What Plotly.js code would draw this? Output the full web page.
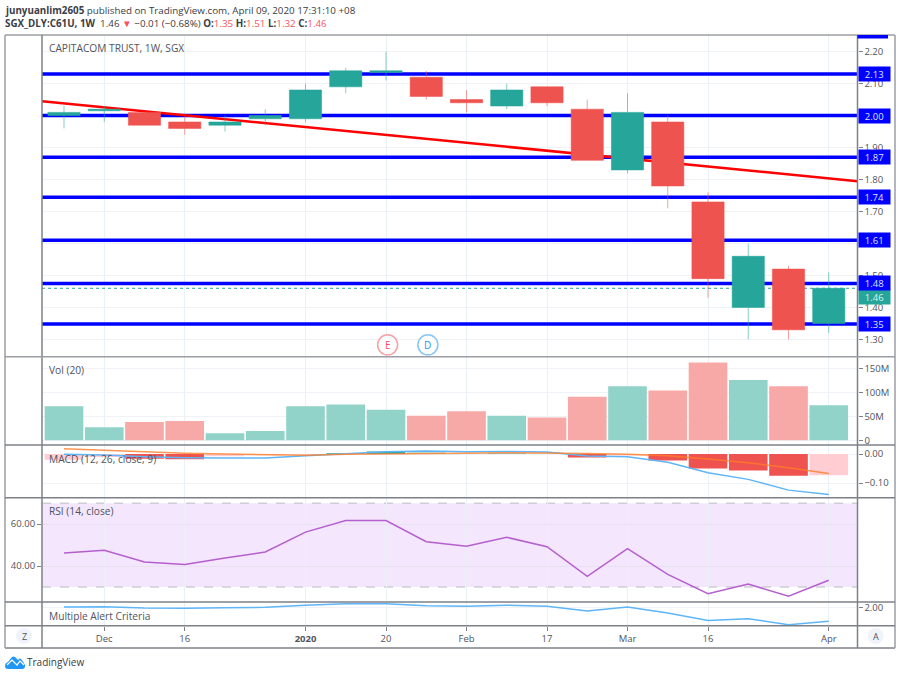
<!DOCTYPE html>
<html><head><meta charset="utf-8">
<script src="https://cdn.plot.ly/plotly-3.0.1.min.js"></script>
<style>html,body{margin:0;padding:0;background:#fff}#c{width:900px;height:677px}</style></head>
<body><div id="c"></div>
<script>
const idx=[0,1,2,3,4,5,6,7,8,9,10,11,12,13,14,15,16,17,18,19];
const open_=[2.00,2.015,2.01,1.98,1.97,1.99,1.99,2.09,2.135,2.12,2.05,2.03,2.09,2.02,1.83,1.98,1.73,1.40,1.52,1.35];
const high_=[2.03,2.03,2.01,2.00,2.00,2.02,2.10,2.15,2.20,2.14,2.08,2.10,2.09,2.05,2.07,2.00,1.76,1.60,1.53,1.51];
const low_=[1.96,1.98,1.97,1.94,1.95,1.97,1.98,2.07,2.11,2.05,2.01,2.02,2.03,1.86,1.82,1.71,1.43,1.30,1.30,1.32];
const close_=[2.01,2.02,1.97,1.96,1.98,2.00,2.08,2.14,2.14,2.06,2.04,2.08,2.04,1.86,2.01,1.78,1.49,1.56,1.33,1.46];
const volume=[71,27,38,40.4,14.6,19.5,71,74.6,63.5,51,60.7,51,47.4,90.7,113,104,162.6,126,113,73];
const macdHist=[-0.020,-0.010,-0.016,-0.018,-0.008,-0.004,-0.002,0.003,0.009,0.007,0.001,0.002,0.001,-0.012,-0.005,-0.022,-0.050,-0.057,-0.075,-0.073];
const macdLine=[-0.001,-0.003,-0.009,-0.013,-0.014,-0.014,-0.006,0.001,0.008,0.010,0.008,0.009,0.007,-0.007,-0.009,-0.028,-0.064,-0.087,-0.124,-0.139];
const signalLine=[0.018,0.013,0.007,0.003,0,-0.002,-0.004,-0.001,0.001,0.002,0.003,0.004,0.004,0.002,-0.001,-0.006,-0.017,-0.030,-0.047,-0.067];
const rsi=[46.2,47.5,41.9,40.8,43.8,46.7,56.2,61.7,61.7,51.6,49.4,53.7,49.2,35.1,48.3,36,26.8,31.4,25.6,33.2];
const alertCriteria=close_;
const levels=[2.13,2.00,1.87,1.745,1.61,1.475,1.348];
const levelLabels=['2.13','2.00','1.87','1.74','1.61','1.48','1.35'];
const lastPrice=1.46;
const trendX=[-0.5466,19.714];
const trendY=[2.045,1.795];
const xTickVals=[1,3,6,8,10,12,14,16,19];
const xTickText=['Dec','16','<b>2020</b>','20','Feb','17','Mar','16','Apr'];

const W=900,H=677,L=42,R=857.5,T=35,B=625.5;
const px=x=>x/W, py=y=>1-y/H;
const GREEN='#26a69a',RED='#ef5350',PG='#92d3c9',PR='#f7a9a7';
const TXT='#50535e',GRID='#eff3f8',FRAME='#9b9ea6',FRAME2='#7d8087';
const FONT='"Open Sans",sans-serif';
const xr=[-0.5466,19.714];
const up=idx.map(i=>close_[i]>=open_[i]);
const histCol=macdHist.map((v,i)=>{
  const prev=i?macdHist[i-1]:v;
  return v>=0?(v>=prev?GREEN:'#b2dfdb'):(v<prev?RED:'#ffcdd2');});

const traces=[];
levels.forEach(l=>traces.push({x:xr,y:[l,l],type:'scatter',mode:'lines',xaxis:'x',yaxis:'y',line:{color:'#0000ff',width:3.5},hoverinfo:'skip'}));
traces.push({x:trendX,y:trendY,type:'scatter',mode:'lines',xaxis:'x',yaxis:'y',line:{color:'#ff0000',width:2.5},hoverinfo:'skip'});
traces.push({x:xr,y:[lastPrice,lastPrice],type:'scatter',mode:'lines',xaxis:'x',yaxis:'y',line:{color:GREEN,width:1,dash:'dot'},hoverinfo:'skip'});
traces.push({x:idx,open:open_,high:high_,low:low_,close:close_,type:'candlestick',xaxis:'x',yaxis:'y6',whiskerwidth:0,
  increasing:{fillcolor:GREEN,line:{color:'rgba(38,166,154,0.55)',width:1}},
  decreasing:{fillcolor:RED,line:{color:'rgba(239,83,80,0.55)',width:1}}});
traces.push({x:idx,y:volume,type:'bar',xaxis:'x',yaxis:'y2',width:0.96,marker:{color:up.map(u=>u?PG:PR),line:{width:0}}});
traces.push({x:idx,y:macdHist,type:'bar',xaxis:'x',yaxis:'y3',width:0.96,marker:{color:histCol,line:{width:0}}});
traces.push({x:idx,y:macdLine,type:'scatter',mode:'lines',xaxis:'x',yaxis:'y3',line:{color:'#5eb5f7',width:1.5}});
traces.push({x:idx,y:signalLine,type:'scatter',mode:'lines',xaxis:'x',yaxis:'y3',line:{color:'rgba(255,125,40,0.8)',width:1.5}});
traces.push({x:idx,y:rsi,type:'scatter',mode:'lines',xaxis:'x',yaxis:'y4',line:{color:'#b55fcf',width:1.5}});
traces.push({x:idx,y:alertCriteria,type:'scatter',mode:'lines',xaxis:'x',yaxis:'y5',line:{color:'#5eb5f7',width:1.5}});

const yBase={showline:false,zeroline:false,gridcolor:GRID,gridwidth:1,ticks:'outside',ticklen:4,tickcolor:FRAME2,tickwidth:1,
  tickfont:{family:FONT,size:9.5,color:TXT},fixedrange:true,anchor:'x'};
const priceTicks=[1.3,1.4,1.5,1.6,1.7,1.8,1.9,2.0,2.1,2.2];
const priceRange=[1.246,2.252];

const lineShape=(x0,y0,x1,y1,c,w)=>({type:'line',xref:'paper',yref:'paper',x0:px(x0),y0:py(y0),x1:px(x1),y1:py(y1),line:{color:c,width:w},layer:'above'});
const shapes=[
  {type:'rect',xref:'paper',yref:'y4',x0:px(L),x1:px(R),y0:30,y1:70,fillcolor:'#f4e6fd',line:{width:0},layer:'below'},
  {type:'line',xref:'paper',yref:'y4',x0:px(L),x1:px(R),y0:70,y1:70,line:{color:'#b9bcc4',width:1,dash:'dash'},layer:'below'},
  {type:'line',xref:'paper',yref:'y4',x0:px(L),x1:px(R),y0:30,y1:30,line:{color:'#b9bcc4',width:1,dash:'dash'},layer:'below'},
  {type:'circle',xref:'x',yref:'y',xsizemode:'pixel',ysizemode:'pixel',xanchor:8.04,yanchor:1.283,x0:-10,x1:10,y0:-10,y1:10,line:{color:'#f9a0a4',width:1.5},fillcolor:'#fff'},
  {type:'circle',xref:'x',yref:'y',xsizemode:'pixel',ysizemode:'pixel',xanchor:9.04,yanchor:1.283,x0:-10,x1:10,y0:-10,y1:10,line:{color:'#85c6fa',width:1.5},fillcolor:'#fff'},
  lineShape(5,35,895,35,FRAME,1.5),
  lineShape(5,648,895,648,FRAME2,1.5),
  lineShape(5,35,5,648,FRAME,1.5),
  lineShape(895,35,895,648,FRAME,1.5),
  lineShape(42,35,42,648,FRAME2,1.5),
  lineShape(857.5,35,857.5,648,FRAME2,1.5),
  lineShape(5,356.7,895,356.7,FRAME,1.5),
  lineShape(5,445,895,445,FRAME2,1.5),
  lineShape(5,497.7,895,497.7,FRAME2,1.5),
  lineShape(5,602,895,602,FRAME2,1.5),
  lineShape(5,625.7,895,625.7,FRAME2,1.5),
  {type:'rect',xref:'paper',yref:'paper',x0:px(857.5),x1:px(888),y0:py(38.5),y1:py(35),fillcolor:'#0000ff',line:{width:0},layer:'above'},
  {type:'circle',xref:'paper',yref:'paper',x0:px(16),x1:px(32),y0:py(644),y1:py(628),fillcolor:'#f0f3fa',line:{width:0},layer:'above'},
  {type:'circle',xref:'paper',yref:'paper',x0:px(867.7),x1:px(883.7),y0:py(644),y1:py(628),fillcolor:'#f0f3fa',line:{width:0},layer:'above'},
  {type:'path',xref:'paper',yref:'paper',fillcolor:'#2196f3',line:{width:0},layer:'above',
    path:`M${px(5)},${py(666)} Q${px(5)},${py(663)} ${px(8)},${py(662)} L${px(12)},${py(657)} Q${px(13)},${py(656)} ${px(15)},${py(657)} L${px(18)},${py(660)} Q${px(20)},${py(657)} ${px(22)},${py(660)} L${px(25)},${py(665)} Q${px(25.5)},${py(669)} ${px(22)},${py(669)} L${px(8)},${py(669)} Q${px(5)},${py(669)} ${px(5)},${py(666)} Z`},
  {type:'path',xref:'paper',yref:'paper',line:{color:'#ffffff',width:1.2},layer:'above',
    path:`M${px(7)},${py(665)} L${px(12)},${py(660)} L${px(17)},${py(665)} L${px(20)},${py(661)} L${px(24)},${py(665)}`}
];
const note=(x,y,text,o={})=>Object.assign({xref:'paper',yref:'paper',x:px(o.xanchor==='center'?x:x-2),y:py(y),text,showarrow:false,xanchor:'left',yanchor:'middle',
  font:{family:FONT,size:12,color:TXT}},o);
const R_='#f7525f';
const rs=s=>`<span style="color:${R_}">${s}</span>`;
const HEAD={family:FONT,size:9.8,color:'#3a3d45'};
const LAB={family:FONT,size:10.2,color:TXT};
const annotations=[
  note(5,10,'<b>junyuanlim2605</b> published on TradingView.com, April 09, 2020 17:31:10 +08',{font:HEAD}),
  note(5,23.5,`<b>SGX_DLY:C61U, 1W</b>  1.46 ${rs('▼')} −0.01 (−0.68%) <b>O:</b>${rs('1.35')} <b>H:</b>${rs('1.51')} <b>L:</b>${rs('1.32')} <b>C:</b>${rs('1.46')}`,{font:HEAD}),
  note(49,48,'CAPITACOM TRUST, 1W, SGX',{font:LAB}),
  note(49,370,'Vol (20)',{font:LAB}),
  note(49,459,'MACD (12, 26, close, 9)',{font:LAB}),
  note(49,511,'RSI (14, close)',{font:LAB}),
  note(49,615.5,'Multiple Alert Criteria',{font:LAB}),
  note(24,636,'Z',{xanchor:'center',font:{family:FONT,size:9,color:TXT}}),
  note(875.7,636,'A',{xanchor:'center',font:{family:FONT,size:9,color:TXT}}),
  note(27,661.5,'TradingView',{font:{family:FONT,size:10,color:'#3a3d45'}}),
  {xref:'x',yref:'y',x:8.04,y:1.283,text:'E',showarrow:false,font:{family:FONT,size:10,color:'#f7525f'}},
  {xref:'x',yref:'y',x:9.04,y:1.283,text:'D',showarrow:false,font:{family:FONT,size:10,color:'#2196f3'}}
];
const tag=(v,label,bg,fc,shift)=>({xref:'paper',yref:'y',x:px(857.5),y:v,xanchor:'left',yanchor:'middle',yshift:shift||0,text:label,showarrow:false,
  bgcolor:bg,width:30.5,height:14,borderpad:0,align:'center',font:{family:FONT,size:9.5,color:fc}});
annotations.push(tag(lastPrice,'1.46',GREEN,'#d8f1ee',-8.5));
levels.forEach((l,i)=>annotations.push(tag(l,levelLabels[i],'#0000ff','#dfe3ff')));

const layout={width:W,height:H,margin:{l:0,r:0,t:0,b:0,pad:0},paper_bgcolor:'#fff',plot_bgcolor:'#fff',showlegend:false,barmode:'overlay',boxgap:0.2,boxgroupgap:0,
  xaxis:{domain:[px(L),px(R)],range:xr,tickmode:'array',tickvals:xTickVals,ticktext:xTickText,showgrid:true,gridcolor:'#e9f1f7',zeroline:false,showline:false,
    ticks:'outside',ticklen:4,tickcolor:FRAME2,tickfont:{family:FONT,size:9.5,color:TXT},anchor:'y5',rangeslider:{visible:false},fixedrange:true},
  yaxis:Object.assign({},yBase,{domain:[py(356.7),py(35)],range:priceRange,side:'right',tickmode:'array',tickvals:priceTicks,ticktext:priceTicks.map(v=>v.toFixed(2))}),
  yaxis6:{overlaying:'y',range:priceRange,side:'right',showgrid:false,showticklabels:false,ticks:'',zeroline:false,showline:false,anchor:'x',fixedrange:true},
  yaxis2:Object.assign({},yBase,{domain:[py(445),py(356.7)],range:[-9.85,174.5],side:'right',tickmode:'array',tickvals:[0,50,100,150],ticktext:['0','50M','100M','150M']}),
  yaxis3:Object.assign({},yBase,{domain:[py(497.7),py(445)],range:[-0.15,0.031],side:'right',tickmode:'array',tickvals:[0,-0.1],ticktext:['0.00','−0.10']}),
  yaxis4:Object.assign({},yBase,{domain:[py(602),py(497.7)],range:[22.86,72.6],side:'left',tickmode:'array',tickvals:[40,60],ticktext:['40.00','60.00'],gridcolor:'#e8e2f0'}),
  yaxis5:Object.assign({},yBase,{domain:[py(625.7),py(602)],range:[1.291,2.206],side:'right',tickmode:'array',tickvals:[2],ticktext:['2.00']}),
  shapes,annotations};
Plotly.newPlot('c',traces,layout,{staticPlot:true,displayModeBar:false});
</script></body></html>
